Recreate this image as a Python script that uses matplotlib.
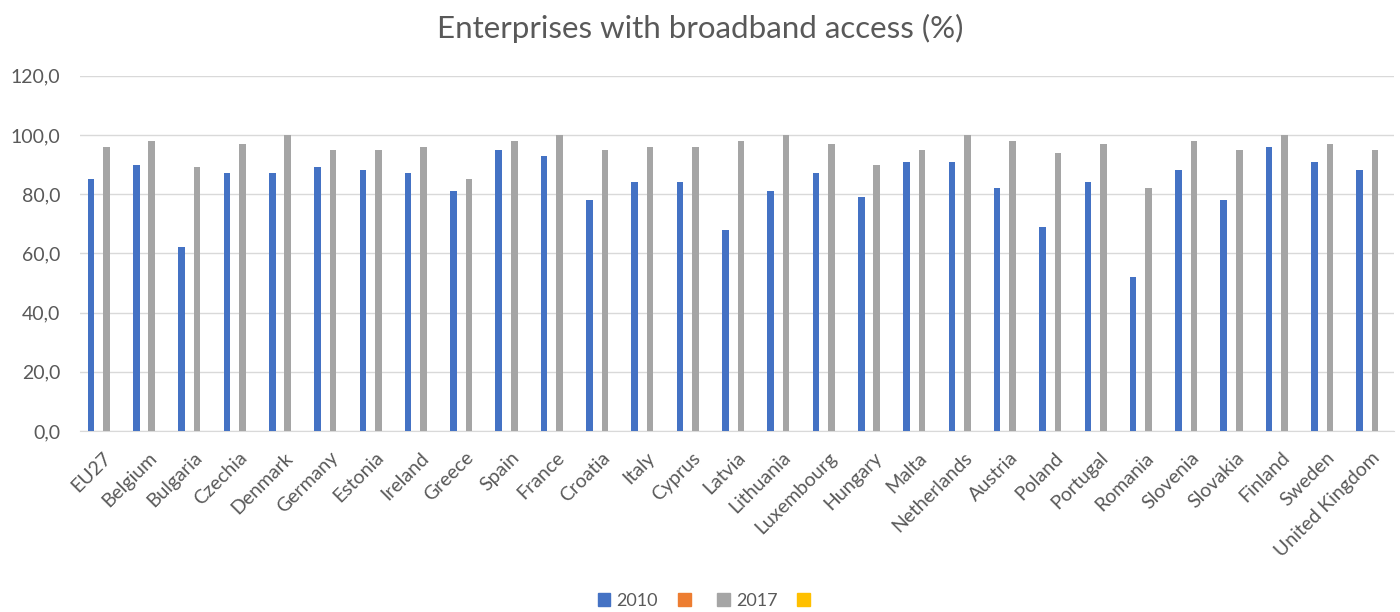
import numpy as np
from matplotlib import pyplot as plt
from matplotlib.patches import Patch

countries = ['EU27', 'Belgium', 'Bulgaria', 'Czechia', 'Denmark', 'Germany', 'Estonia',
             'Ireland', 'Greece', 'Spain', 'France', 'Croatia', 'Italy', 'Cyprus', 'Latvia',
             'Lithuania', 'Luxembourg', 'Hungary', 'Malta', 'Netherlands', 'Austria',
             'Poland', 'Portugal', 'Romania', 'Slovenia', 'Slovakia', 'Finland', 'Sweden',
             'United Kingdom']
y2010 = [85, 90, 62, 87, 87, 89, 88, 87, 81, 95, 93, 78, 84, 84, 68, 81, 87, 79, 91,
         91, 82, 69, 84, 52, 88, 78, 96, 91, 88]
y2017 = [96, 98, 89, 97, 100, 95, 95, 96, 85, 98, 100, 95, 96, 96, 98, 100, 97, 90, 95,
         100, 98, 94, 97, 82, 98, 95, 100, 97, 95]
series_names = ['2010', '', '2017', '']
colors = ['#4472C4', '#ED7D31', '#A5A5A5', '#FFC000']

plt.rcParams['font.family'] = ['Lato', 'DejaVu Sans']
text_color = '#595959'

fig = plt.figure(figsize=(14, 6.12), dpi=100)
ax = fig.add_axes([0.0571, 0.2958, 0.9386, 0.5805])

x = np.arange(len(countries))
slot = 0.171
width = 0.145
ax.bar(x - 1.5 * slot, y2010, width, color=colors[0], zorder=3)
ax.bar(x + 0.5 * slot, y2017, width, color=colors[2], zorder=3)

ax.set_xlim(-0.5, len(countries) - 0.5)
ax.set_ylim(0, 120)
ax.set_yticks(np.arange(0, 121, 20))
ax.set_yticklabels([f'{v:.1f}'.replace('.', ',') for v in np.arange(0, 121, 20)])
ax.yaxis.grid(True, color='#D9D9D9', linewidth=1, zorder=0)
ax.set_xticks(x)
ax.set_xticklabels(countries, rotation=45, ha='right', rotation_mode='anchor')
ax.tick_params(axis='both', length=0, labelsize=14, colors=text_color)
ax.tick_params(axis='y', pad=14)
ax.tick_params(axis='x', pad=13)
for side in ['top', 'right', 'left']:
    ax.spines[side].set_visible(False)
ax.spines['bottom'].set_color('#D9D9D9')

fig.text(0.5, 0.953, 'Enterprises with broadband access (%)', ha='center', va='center',
         fontsize=22.5, color=text_color)

handles = [Patch(color=c) for c in colors]
fig.legend(handles, series_names, loc='center', bbox_to_anchor=(0.505, 0.018), ncol=4,
           frameon=False, fontsize=13, labelcolor=text_color, handlelength=0.7,
           handleheight=0.7, handletextpad=0.35, columnspacing=1.1)

fig.savefig('out.png', dpi=100)
